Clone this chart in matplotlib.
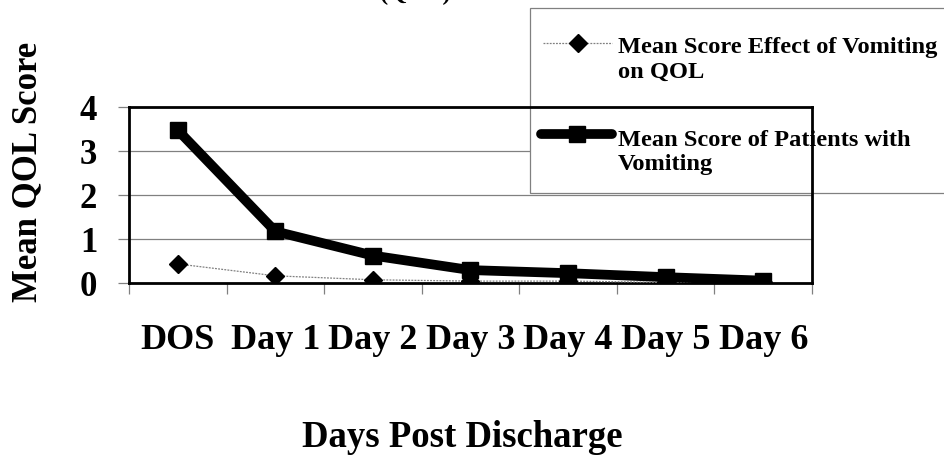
import matplotlib
matplotlib.use("Agg")
import matplotlib.pyplot as plt
from matplotlib.patches import Rectangle
from matplotlib.lines import Line2D

plt.rcParams['font.family'] = ['Liberation Serif', 'DejaVu Serif']
plt.rcParams['font.weight'] = 'bold'

categories = ["DOS", "Day 1", "Day 2", "Day 3", "Day 4", "Day 5", "Day 6"]
effect_on_qol = [0.44, 0.17, 0.08, 0.05, 0.05, 0.02, 0.02]
patients_vomiting = [3.48, 1.18, 0.63, 0.30, 0.23, 0.14, 0.06]
yticks = [0, 1, 2, 3, 4]
series_labels = [["Mean Score Effect of Vomiting", "on QOL"],
                 ["Mean Score of Patients with", "Vomiting"]]

W, H = 945, 459
fig = plt.figure(figsize=(W / 100, H / 100), dpi=100)
L, R, T, B = 129, 812, 107.3, 283.3
ax = fig.add_axes([L / W, 1 - B / H, (R - L) / W, (B - T) / H])

effect_style = dict(color='#808080', lw=0.9, ls=(0, (1.5, 1)),
                    marker='D', ms=9, mfc='black', mec='black')
vomit_style = dict(color='black', lw=7, solid_capstyle='round',
                   marker='s', ms=11, mfc='black', mec='black')

x = list(range(len(categories)))
ax.plot(x, effect_on_qol, zorder=3, **effect_style)
ax.plot(x, patients_vomiting, zorder=4, **vomit_style)

ax.set_xlim(-0.5, len(categories) - 0.5)
ax.set_ylim(0, 4)
ax.set_yticks(yticks)
ax.set_yticklabels([str(v) for v in yticks])
ax.set_xticks([i - 0.5 for i in range(len(categories) + 1)])
ax.set_xticklabels([])
ax.set_xticks(x, minor=True)
ax.set_xticklabels(categories, minor=True)

ax.tick_params(axis='y', which='major', length=8, width=0.9, color='#808080',
               labelsize=25, pad=15)
ax.tick_params(axis='x', which='major', length=8, width=0.9, color='#808080')
ax.tick_params(axis='x', which='minor', length=0, labelsize=26, pad=29)

ax.grid(axis='y', color='#808080', lw=0.9)
ax.set_axisbelow(True)
for s in ax.spines.values():
    s.set_color('black')
    s.set_linewidth(2)

ax.set_ylabel("Mean QOL Score", fontsize=25, fontweight='bold', va='center')
ax.yaxis.set_label_coords((28 - L) / (R - L), (B - 172) / (B - T))
ax.set_xlabel("Days Post Discharge", fontsize=26.5, fontweight='bold', va='baseline')
ax.xaxis.set_label_coords((462 - L) / (R - L), (B - 447) / (B - T))

fig.text(480 / W, 1.0, "(QOL) Mean Score", ha='center', va='baseline',
         fontsize=17.6, fontweight='bold')

# legend box (drawn under the plot frame, like the original)
box = Rectangle((530 / W, 1 - 193 / H), (W + 20 - 530) / W, (193 - 8) / H,
                transform=fig.transFigure, facecolor='white', edgecolor='#808080',
                lw=0.9, clip_on=False, zorder=2.2)
ax.add_patch(box)


def fy(py):
    return 1 - py / H


legend_rows = [
    (effect_style, 543, 612, 43, 53, 78),
    (vomit_style, 541, 612, 134, 146, 170),
]
for (style, x0, x1, yh, b1, b2), lab in zip(legend_rows, series_labels):
    st = dict(style)
    st.pop('marker')
    ln = Line2D([x0 / W, x1 / W], [fy(yh), fy(yh)], transform=fig.transFigure,
                clip_on=False, zorder=2.3, **st)
    ax.add_line(ln)
    mk = Line2D([(x0 + x1) / 2 / W], [fy(yh)], transform=fig.transFigure,
                clip_on=False, zorder=2.31, marker=style['marker'], ms=style['ms'],
                mfc='black', mec='black', ls='none')
    ax.add_line(mk)
    ax.text(618 / W, fy(b1), lab[0], transform=fig.transFigure, va='baseline',
            ha='left', fontsize=17.6, fontweight='bold', zorder=2.3, clip_on=False)
    ax.text(618 / W, fy(b2), lab[1], transform=fig.transFigure, va='baseline',
            ha='left', fontsize=17.6, fontweight='bold', zorder=2.3, clip_on=False)

fig.savefig("out.png", dpi=100)
